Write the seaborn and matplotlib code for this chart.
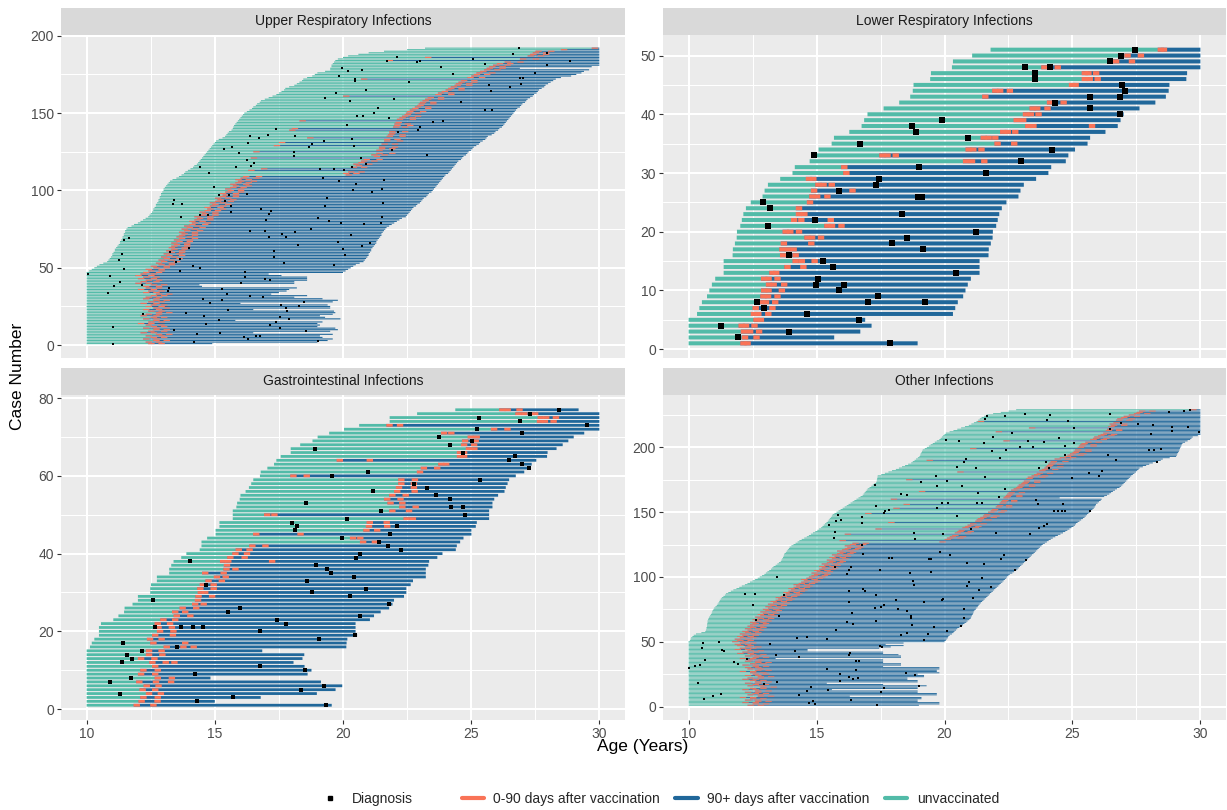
import numpy as np
import pandas as pd
import matplotlib
matplotlib.use("Agg")  # headless
import matplotlib.pyplot as plt
from matplotlib.lines import Line2D
import seaborn as sns

W, H = 1227, 810
TEAL, BLUE, SALMON = "#52BBA8", "#20679A", "#F97357"
DOSE_SPAN = 0.25  # 0-90 days after a dose, in years

# ---------------- Upper Respiratory Infections (cases 1..192) ----------------
upper_start = [
    10.0, 10.0, 10.0, 10.0, 10.0, 10.0, 10.0, 10.0, 10.0, 10.0, 10.0, 10.0, 10.0, 10.0, 10.0, 10.0,
    10.0, 10.0, 10.0, 10.0, 10.0, 10.0, 10.0, 10.0, 10.0, 10.0, 10.0, 10.0, 10.0, 10.0, 10.0, 10.0,
    10.0, 10.0, 10.0, 10.0, 10.0, 10.0, 10.0, 10.0, 10.0, 10.0, 10.0, 10.0, 10.0, 10.0, 10.0,
    10.1, 10.2, 10.3, 10.4, 10.5, 10.65, 10.8, 10.85, 10.9, 10.95, 11.0, 11.0, 11.05, 11.1, 11.1,
    11.15, 11.2, 11.25, 11.3, 11.3, 11.35, 11.4, 11.4, 11.45, 11.45, 11.5, 11.5, 11.55, 11.6, 11.75,
    11.85, 12.0, 12.1, 12.2, 12.3, 12.4, 12.45, 12.5, 12.55, 12.6, 12.6, 12.65, 12.7, 12.7, 12.75,
    12.8, 12.8, 12.85, 12.85, 12.9, 12.9, 12.95, 13.0, 13.0, 13.05, 13.1, 13.15, 13.2, 13.25, 13.35,
    13.5, 13.6, 13.7, 13.8, 13.85, 13.95, 14.05, 14.15, 14.2, 14.3, 14.35, 14.4, 14.45, 14.5, 14.55,
    14.6, 14.65, 14.7, 14.75, 14.8, 14.85, 14.9, 14.95, 15.0, 15.05, 15.15, 15.3, 15.4, 15.45, 15.5,
    15.55, 15.65, 15.7, 15.72, 15.75, 15.8, 15.85, 15.9, 15.95, 16.0, 16.05, 16.1, 16.15, 16.25, 16.35,
    16.45, 16.5, 16.6, 16.65, 16.75, 16.8, 16.95, 17.1, 17.25, 17.4, 17.5, 17.6, 17.7, 17.75, 17.9,
    18.1, 18.2, 18.3, 18.4, 18.45, 18.6, 18.8, 18.9, 19.0, 19.3, 19.5, 19.5, 19.55, 19.55, 19.6,
    19.65, 19.7, 19.8, 20.0, 20.2, 20.6, 21.0, 21.6, 22.5, 23.2,
]
upper_end = [
    14.9, 19.0, 19.4, 19.6, 19.2, 19.1, 19.6, 16.5, 19.5, 19.8, 19.7, 19.0, 19.1, 19.0, 19.2, 15.8,
    19.9, 19.3, 19.1, 19.6, 19.7, 19.65, 16.5, 19.5, 19.5, 19.4, 16.0, 19.6, 19.8, 19.2, 18.1, 18.6,
    17.2, 17.5, 17.8, 17.9, 18.2, 14.5, 14.4, 18.1, 18.1, 18.6, 18.6, 18.6, 17.6, 17.1, 20.0,
    20.1, 20.2, 20.3, 20.4, 20.5, 20.65, 20.8, 20.85, 20.9, 20.95, 21.0, 21.0, 21.05, 21.1, 21.1,
    21.15, 21.2, 21.25, 21.3, 21.3, 21.35, 21.4, 21.45, 21.5, 21.5, 21.55, 21.6, 21.65, 21.7, 21.8,
    21.9, 22.0, 22.1, 22.2, 22.3, 22.45, 22.5, 22.55, 22.6, 22.65, 22.7, 22.75, 22.85, 22.9, 23.0,
    23.05, 23.1, 23.15, 23.25, 23.3, 23.35, 23.45, 23.5, 23.55, 23.6, 23.65, 23.7, 23.75, 23.8, 23.85,
    23.9, 23.95, 24.0, 24.1, 24.15, 24.2, 24.25, 24.3, 24.35, 24.4, 24.45, 24.5, 24.6, 24.65, 24.7,
    24.8, 24.85, 24.9, 25.0, 25.05, 25.1, 25.2, 25.3, 25.35, 25.45, 25.55, 25.6, 25.65, 25.8, 25.9,
    25.95, 26.05, 26.1, 26.2, 26.25, 26.3, 26.35, 26.4, 26.45, 26.5, 26.55, 26.6, 26.65, 26.7, 26.75,
    26.8, 26.9, 26.95, 27.0, 27.1, 27.15, 27.2, 27.3, 27.4, 27.45, 27.55, 27.6, 27.65, 27.75, 27.85,
    27.9, 28.0, 28.1, 28.2, 28.3, 28.5, 28.9, 29.1, 29.3, 29.4, 29.6, 26.9, 29.7, 30.0, 30.0,
    30.0, 30.0, 30.0, 30.0, 30.0, 30.0, 30.0, 30.0, 30.0, 30.0,
]
upper_dose1 = [
    12.4, 12.3, 12.6, 12.2, 12.5, 12.3, 12.7, 12.1, 12.4, 12.6, 12.2, 12.5, 12.3, 12.0, 12.4, 12.6,
    12.2, 12.5, 12.1, 12.3, 12.7, 12.4, 12.2, 12.6, 12.3, 12.5, 12.1, 12.4, 12.6, 12.2, 12.3, 12.5,
    12.7, 12.2, 12.4, 12.0, 12.3, 12.2, 12.5, 11.9, 12.1, 12.3, 12.0, 12.2, 11.9, 12.1, 12.2,
    12.4, 12.3, 12.6, 12.5, 12.8, 12.7, 12.9, 12.8, 13.0, 12.9, 13.1, 13.0, 13.2, 13.1, 13.3,
    13.2, 13.3, 13.4, 13.3, 13.5, 13.4, 13.6, 13.5, 13.6, 13.7, 13.6, 13.8, 13.7, 13.9, 13.8,
    14.0, 14.1, 14.0, 14.2, 14.3, 14.2, 14.4, 14.5, 14.4, 14.6, 14.7, 14.6, 14.8, 14.9, 14.8,
    15.0, 15.1, 15.0, 15.2, 15.3, 15.2, 15.4, 15.5, 15.4, 15.6, 15.7, 15.6, 15.8, 15.9, 15.8,
    16.0, 16.1,
    20.1, 20.0, 20.2, 16.3, 16.8, 20.3, 20.5, 20.4, 20.6, 20.7,
    20.8, 16.4, 21.2, 21.1, 21.3, 16.5, 21.3, 21.4, 21.4, 17.3,
    21.5, 17.5, 21.6, 21.6, 18.6, 21.7, 21.75, 21.8, 21.8, 17.9,
    18.0, 21.95, 22.0, 22.0, 22.05, 18.3, 22.1, 22.2, 22.3, 22.4,
    22.45, 22.5, 22.6, 22.7, 22.8, 22.9, 22.95, 23.0, 23.1, 23.2,
    23.3, 20.0, 23.6, 23.7, 23.85, 24.0, 24.1, 24.2, 24.35, 24.4,
    24.5, 24.6, 20.7, 24.85, 25.0, 25.1, 25.2, 25.35, 25.5, 25.6,
    25.7, 25.85, 26.0, 26.3, 21.7, 26.9, 23.2, 27.2, 27.3, 27.4,
    27.5, 28.5, 29.7,
]
upper_dose2 = [
    (1, 12.8), (2, 12.7), (3, 13.0), (4, 12.6), (5, 12.9), (6, 12.8), (7, 13.1), (8, 12.5),
    (9, 12.9), (10, 13.0), (11, 12.6), (12, 12.9), (13, 12.8), (14, 12.4), (15, 12.8), (16, 13.0),
    (17, 12.6), (18, 12.9), (19, 12.6), (20, 12.7), (21, 13.1), (22, 12.8), (23, 12.7), (24, 13.0),
    (25, 12.8), (26, 12.9), (27, 12.6), (28, 12.8), (29, 13.0), (30, 12.6), (31, 12.7), (32, 12.9),
    (33, 13.1), (34, 12.6), (35, 12.8), (36, 12.5), (37, 12.7), (38, 12.7), (39, 12.9), (40, 12.3),
    (41, 12.6), (42, 12.7), (43, 12.5), (44, 12.6), (45, 12.4), (46, 12.5), (47, 12.7), (48, 12.8),
    (49, 12.8), (50, 13.0), (51, 13.0), (52, 13.2), (53, 13.2), (54, 13.4), (55, 13.2), (56, 13.5),
    (57, 13.3), (58, 13.6), (59, 13.5), (60, 13.6), (61, 13.6), (62, 13.7), (63, 13.7), (64, 13.8),
    (65, 13.8), (66, 13.8), (67, 13.9), (68, 13.9), (69, 14.1), (70, 13.9), (71, 14.1), (72, 14.1),
    (73, 14.1), (74, 14.3), (75, 14.1), (76, 14.4), (77, 14.2), (78, 14.5), (79, 14.6), (80, 14.4),
    (81, 14.7), (82, 14.7), (83, 14.7), (84, 14.9), (85, 14.9), (86, 14.9), (87, 15.0), (88, 15.2),
    (89, 15.1), (90, 15.2), (91, 15.4), (92, 15.2), (93, 15.5), (94, 15.6), (95, 15.4), (96, 15.7),
    (97, 15.7), (98, 15.7), (99, 15.9), (100, 15.9), (101, 15.9), (102, 16.0), (103, 16.2),
    (104, 16.1), (105, 16.2), (106, 16.4), (107, 16.2), (108, 16.5), (109, 16.6),
    (111, 20.4), (112, 20.6), (115, 20.7), (117, 20.9), (119, 21.1), (120, 21.3), (123, 21.5),
    (124, 21.8), (127, 21.8), (128, 21.9), (130, 21.9), (132, 22.1), (133, 22.0), (135, 22.2),
    (136, 22.2), (138, 22.3), (141, 22.3), (142, 22.5), (143, 22.4), (146, 22.6), (147, 22.6),
    (148, 22.8), (150, 22.8), (151, 23.0), (153, 23.2), (154, 23.2), (156, 23.4), (157, 23.4),
    (159, 23.7), (160, 23.7), (162, 24.1), (163, 24.1), (165, 24.5), (166, 24.5), (168, 24.8),
    (169, 24.8), (170, 25.0), (171, 25.0), (173, 25.3), (175, 25.5), (176, 25.7), (178, 25.9),
    (179, 26.1), (180, 26.1), (181, 26.3), (182, 26.4), (183, 26.8), (185, 27.4), (187, 27.6),
    (188, 27.8), (189, 27.8), (190, 28.0),
]
upper_diag = [
    (46, 10.05), (49, 11.44), (45, 10.9), (41, 11.3), (38, 11.07), (34, 10.85), (39, 12.15), (37, 13.23),
    (35, 13.18), (20, 12.19), (12, 11.02), (1, 11.04), (21, 13.88), (19, 14.59), (14, 14.64), (10, 13.41),
    (7, 14.29), (2, 14.2), (8, 15.21), (16, 15.17), (23, 15.51), (27, 14.8), (30, 14.55), (29, 15.27),
    (33, 15.48), (36, 15.29), (40, 16.02), (44, 16.18), (47, 16.19), (32, 16.36), (31, 16.88), (43, 16.97),
    (42, 17.17), (26, 17.59), (24, 17.77), (22, 17.8), (25, 18.28), (28, 18.49), (17, 17.91), (18, 17.54),
    (15, 17.4), (13, 17.17), (11, 17.56), (9, 18.57), (3, 19.02), (5, 16.13), (4, 16.3), (6, 16.61),
    (6, 16.77), (53, 17.68), (52, 19.66), (51, 14.15), (50, 14.41), (48, 13.66),
    (55, 11.28), (59, 11.38), (68, 11.46), (69, 11.64), (60, 13.24), (54, 13.49), (56, 13.65), (63, 13.98),
    (61, 17.32), (57, 17.32), (65, 18.23), (67, 19.8), (62, 20.0), (58, 20.07), (64, 20.76), (66, 21.04),
    (192, 26.87), (188, 26.64), (189, 27.96), (181, 27.97), (184, 28.87), (176, 27.49), (173, 26.9),
    (173, 27.03), (169, 26.93), (167, 26.51), (164, 25.78), (168, 25.71), (185, 25.07), (182, 25.53),
    (175, 24.28), (157, 24.61), (180, 23.82), (184, 23.01), (183, 22.87), (186, 22.12), (184, 21.71),
    (178, 20.75), (177, 20.21), (179, 19.96), (174, 19.85), (172, 20.45), (171, 20.46), (163, 19.72),
    (160, 19.29), (158, 20.28), (165, 20.89), (159, 21.97), (170, 22.56), (152, 25.53), (152, 25.83),
    (144, 23.5), (145, 23.89), (139, 22.91), (141, 22.99), (138, 22.14), (147, 21.8), (153, 21.36),
    (150, 21.19), (148, 20.77), (148, 20.56), (142, 20.17), (133, 20.34), (129, 20.43), (121, 20.69),
    (117, 20.89), (115, 20.37), (113, 20.02), (114, 19.64), (114, 19.09), (108, 19.22), (106, 19.85),
    (104, 20.49), (107, 21.58), (101, 21.54), (99, 21.15), (100, 20.38), (95, 19.39), (92, 21.57),
    (90, 19.31), (126, 21.91), (123, 23.28), (125, 18.09), (122, 18.1), (128, 18.66), (130, 18.79),
    (132, 19.25), (135, 18.11), (140, 17.4), (136, 17.07), (134, 16.74), (135, 16.39), (131, 16.3),
    (124, 15.95), (127, 15.34), (128, 15.66), (115, 15.83), (120, 16.26), (116, 16.4), (118, 16.53),
    (115, 14.41), (111, 14.76), (102, 14.96), (97, 15.17), (93, 15.4), (97, 15.54), (86, 15.63),
    (90, 15.65), (98, 16.27), (83, 13.69), (84, 14.44), (84, 14.72), (94, 13.42), (91, 13.37),
    (91, 13.73), (88, 16.82), (87, 17.19), (85, 17.12), (81, 16.98), (74, 16.39), (74, 16.94),
    (70, 17.12), (72, 17.64), (70, 17.77), (73, 18.11), (75, 18.74), (82, 19.01), (80, 19.44),
    (79, 19.91), (71, 20.33), (78, 20.82), (79, 21.48), (83, 21.54),
]

# ---------------- Lower Respiratory Infections (cases 1..51) ----------------
lower_start = [
    10.0, 10.0, 10.0, 10.0, 10.0, 10.33, 10.42, 10.52, 10.72, 10.81, 10.91, 11.04, 11.37, 11.37,
    11.37, 11.72, 11.73, 11.81, 11.88, 11.89, 12.02, 12.08, 12.14, 12.24, 12.43, 12.89, 12.97, 13.1,
    13.58, 14.06, 14.15, 14.73, 14.82, 15.08, 15.59, 15.68, 16.28, 16.76, 16.86, 16.99, 17.62, 18.23,
    18.66, 18.76, 18.79, 19.44, 19.47, 20.29, 20.33, 21.08, 21.8,
]
lower_end = [
    18.95, 15.69, 16.71, 17.15, 16.9, 20.33, 20.42, 20.52, 20.73, 20.82, 20.91, 21.03, 21.37, 21.37,
    21.37, 21.72, 21.73, 21.81, 21.88, 21.89, 22.02, 22.08, 22.14, 22.24, 22.42, 22.89, 22.97, 23.1,
    23.58, 24.06, 24.17, 24.74, 24.84, 25.1, 25.59, 25.69, 26.29, 26.77, 26.88, 27.0, 27.62, 28.24,
    28.65, 28.76, 28.79, 29.45, 29.48, 30.0, 30.0, 30.0, 30.0,
]
lower_doses = [
    [12.02, 12.18], [12.08, 12.53], [12.04, 12.28, 12.63], [11.95, 12.12, 12.45], [12.53, 12.7],
    [12.43, 12.6, 12.99], [12.5, 13.15], [12.76, 12.9, 13.26], [12.8, 12.98, 13.35], [12.83, 13.0, 13.52],
    [13.02, 13.2, 13.61], [12.83, 13.0, 13.35], [13.15, 13.3], [13.74, 14.36], [14.06, 14.3, 14.8],
    [13.57, 14.06], [13.54, 13.75, 13.98], [13.6, 14.67], [14.52, 14.7, 15.05], [13.67, 13.85, 14.19],
    [15.3, 15.48, 15.85], [14.0, 14.28, 15.43], [14.19, 14.4], [14.19], [14.62],
    [14.71, 14.9, 15.3], [14.78, 16.28], [14.95, 15.15, 15.47], [14.58, 14.75], [16.04],
    [15.96], [20.72, 20.95, 21.43], [17.45, 17.65, 17.97], [20.82, 21.0, 21.32], [21.95, 22.6],
    [21.41, 21.6, 21.86], [22.17, 22.35, 22.64], [23.15, 23.35, 25.64], [22.7, 22.95], [23.06, 23.25, 23.55],
    [23.32, 23.5, 23.9], [24.0, 24.53], [21.47], [21.86, 22.05, 22.43], [24.86, 25.0],
    [25.36, 25.55, 25.86], [25.36, 25.5, 25.8], [23.78, 24.3], [26.58, 27.2], [27.03, 27.55],
    [28.33, 28.45],
]
lower_diag = [
    (1, 17.86), (2, 11.94), (3, 13.91), (4, 11.26), (5, 16.65), (6, 14.62), (7, 12.96), (8, 12.66),
    (8, 17.02), (8, 19.22), (9, 17.4), (10, 15.86), (11, 14.96), (11, 16.09), (12, 15.05), (13, 20.43),
    (14, 15.64), (15, 15.25), (16, 13.91), (17, 19.15), (18, 17.96), (19, 18.55), (20, 21.24), (21, 13.11),
    (22, 14.93), (23, 18.35), (24, 13.19), (25, 12.92), (26, 18.96), (26, 19.14), (27, 15.86), (28, 17.32),
    (29, 17.46), (30, 21.63), (31, 19.0), (32, 23.0), (33, 14.9), (34, 24.19), (35, 16.68), (36, 20.91),
    (37, 18.88), (38, 18.74), (39, 19.9), (40, 26.86), (41, 25.68), (42, 24.32), (43, 25.7), (43, 26.84),
    (44, 27.06), (45, 26.94), (46, 23.55), (47, 23.52), (48, 23.15), (48, 24.14), (49, 26.46), (50, 26.88),
    (51, 27.46),
]

# ---------------- Gastrointestinal Infections (cases 1..77) ----------------
gi_start = [
    10.0, 10.0, 10.0, 10.0, 10.0, 10.0, 10.0, 10.0, 10.0, 10.0, 10.0, 10.0, 10.0, 10.0, 10.0,
    10.13, 10.2, 10.3, 10.48, 10.48, 10.48, 10.56, 11.04, 11.24, 11.46,
    11.48, 11.79, 12.0, 12.0, 12.48, 12.48, 12.51, 12.74, 12.74, 13.22,
    13.22, 13.3, 13.39, 13.69, 13.89, 14.41, 14.48, 14.48, 14.7, 15.03,
    15.03, 15.18, 15.18, 15.7, 15.7, 15.7, 15.84, 15.87, 15.97, 16.0,
    16.2, 16.33, 16.42, 16.5, 16.76, 16.79, 17.05, 17.31, 17.4, 17.57,
    17.96, 17.96, 18.33, 18.81, 19.01, 19.46, 20.04, 20.63, 21.82, 21.82,
    22.89, 24.38,
]
gi_end = [
    19.56, 15.0, 16.79, 18.98, 19.71, 19.97, 19.14, 14.83, 18.62, 18.77,
    18.5, 18.07, 18.42, 18.49, 16.85, 20.13, 20.14, 20.17, 20.55, 20.49,
    20.49, 20.49, 21.05, 21.21, 21.47, 21.8, 21.93, 21.99, 22.38, 22.47,
    22.47, 22.64, 22.73, 23.23, 23.23, 23.23, 23.33, 23.36, 23.68, 23.88,
    24.4, 24.44, 24.57, 24.7, 25.01, 25.01, 25.18, 25.22, 25.7, 25.7,
    25.7, 25.83, 25.83, 25.9, 26.05, 26.3, 26.35, 26.42, 26.48, 26.74,
    27.07, 27.3, 27.36, 27.54, 27.96, 27.98, 28.33, 28.57, 28.79, 29.0,
    29.41, 30.0, 30.0, 30.0, 30.0, 30.0, 29.19,
]
gi_doses = [
    [11.83, 12.48], [12.02, 12.64], [12.09, 12.65], [12.31, 12.77], [12.06, 12.55],
    [12.22, 12.68], [11.93, 12.58, 13.17], [12.65, 13.2], [12.0, 12.55], [12.09, 12.65],
    [12.55], [12.44, 12.96, 13.3], [12.0, 12.52], [12.31, 12.83], [12.31, 12.8],
    [13.0, 13.65, 14.05], [12.48, 13.72], [12.35, 12.8], [12.55, 13.24], [12.74, 13.26],
    [12.68, 13.2], [12.65, 13.13], [12.87, 13.33], [13.39, 13.92], [13.33, 13.72],
    [13.62, 14.15], [14.11, 14.44], [14.22], [14.24, 14.77], [14.33, 14.5],
    [14.31, 14.83], [14.41, 14.83], [14.63, 15.15], [14.96, 15.3], [14.5, 15.22],
    [15.33, 15.68], [15.35], [15.2, 15.4, 17.11], [15.48, 16.04], [15.68, 16.13],
    [15.81, 16.23], [16.34, 16.85], [20.66, 21.12], [20.27, 20.55], [16.49, 18.22],
    [20.79, 21.21], [20.89, 21.6], [20.92, 21.58], [22.36, 22.6], [16.92, 17.2],
    [21.8, 22.45], [22.19, 22.71], [21.73, 22.19], [21.6, 22.12], [21.8, 22.32],
    [21.99, 22.67], [22.06, 22.64], [22.15, 22.64], [22.15, 22.68], [17.94, 18.46],
    [22.88], [23.03, 23.55], [23.71, 23.9], [19.75, 20.92], [24.44, 24.6],
    [24.44, 24.6], [24.79, 25.0], [24.6, 24.99], [24.64, 25.05], [24.86, 25.09],
    [23.82, 24.1], [25.77, 26.29], [21.69, 22.1], [27.56, 27.75, 28.09], [27.59, 27.8, 28.18],
    [26.72, 26.95, 27.37], [26.09, 26.3, 26.76],
]
gi_diag = [
    (1, 19.33), (2, 14.31), (3, 15.72), (4, 11.31), (5, 18.36), (6, 19.24), (7, 10.9), (8, 11.74),
    (9, 14.24), (10, 18.5), (11, 16.76), (12, 11.38), (13, 11.78), (14, 11.57), (15, 12.15), (16, 13.52),
    (17, 11.42), (18, 19.06), (19, 20.48), (20, 16.75), (21, 12.66), (21, 13.67), (21, 14.15), (21, 14.54),
    (22, 17.77), (23, 17.42), (24, 20.65), (25, 15.5), (26, 16.0), (27, 21.8), (28, 12.57), (29, 20.27),
    (30, 18.81), (31, 20.91), (32, 14.66), (33, 18.6), (34, 20.43), (35, 19.53), (36, 19.36), (37, 18.94),
    (38, 14.05), (39, 20.49), (40, 20.66), (41, 22.28), (42, 21.77), (43, 21.42), (44, 19.95), (45, 21.82),
    (46, 18.12), (47, 18.2), (47, 22.1), (48, 18.03), (49, 20.14), (50, 24.74), (51, 21.48), (52, 24.22),
    (52, 24.67), (53, 18.55), (54, 24.19), (55, 23.62), (56, 21.18), (57, 23.26), (58, 22.76), (59, 25.34),
    (60, 19.58), (61, 20.99), (62, 27.24), (63, 27.0), (64, 26.48), (65, 26.72), (66, 24.67), (67, 18.89),
    (68, 24.19), (69, 25.03), (70, 23.74), (71, 26.99), (72, 25.21), (73, 29.53), (74, 26.91), (75, 25.29),
    (76, 27.29), (77, 28.42),
]

# ---------------- Other Infections (cases 1..229) ----------------
other_start = [
    10.0, 10.0, 10.0, 10.0, 10.0, 10.0, 10.0, 10.0, 10.0, 10.0, 10.0, 10.0, 10.0, 10.0, 10.0, 10.0, 10.0,
    10.0, 10.0, 10.0, 10.0, 10.0, 10.0, 10.0, 10.0, 10.0, 10.0, 10.0, 10.0, 10.0, 10.0, 10.0, 10.0, 10.0,
    10.0, 10.0, 10.0, 10.0, 10.0, 10.0, 10.0, 10.0, 10.0, 10.0, 10.0, 10.0, 10.0, 10.0, 10.0, 10.0,
    10.05, 10.08, 10.1, 10.15, 10.2, 10.29, 10.5, 10.65, 10.68, 10.7,
    10.7, 10.72, 10.72, 10.73, 10.74, 10.74, 10.76, 10.78, 10.8, 10.84,
    10.87, 10.9, 10.92, 10.94, 10.97, 11.0, 11.05, 11.1, 11.13, 11.17,
    11.2, 11.22, 11.26, 11.3, 11.36, 11.42, 11.46, 11.55, 11.65, 11.75,
    11.87, 11.98, 12.08, 12.2, 12.3, 12.4, 12.5, 12.6, 12.7, 12.78,
    12.87, 12.96, 13.02, 13.08, 13.15, 13.22, 13.27, 13.32, 13.4, 13.47,
    13.53, 13.6, 13.63, 13.66, 13.69, 13.71, 13.73, 13.75, 13.8, 13.84,
    13.88, 13.92, 13.95, 14.02, 14.1, 14.18, 14.26, 14.33, 14.42, 14.52,
    14.62, 14.7, 14.78, 14.86, 14.95, 15.03, 15.1, 15.18, 15.23, 15.28,
    15.33, 15.39, 15.44, 15.48, 15.52, 15.56, 15.6, 15.63, 15.7, 15.78,
    15.86, 15.94, 16.02, 16.1, 16.18, 16.25, 16.33, 16.41, 16.48, 16.56,
    16.64, 16.72, 16.8, 16.84, 16.88, 16.92, 16.96, 17.0, 17.07, 17.14,
    17.2, 17.27, 17.33, 17.35, 17.36, 17.37, 17.38, 17.39, 17.53, 17.67,
    17.81, 17.95, 18.1, 18.22, 18.34, 18.46, 18.58, 18.7, 18.76, 18.83,
    18.89, 18.96, 19.02, 19.05, 19.07, 19.1, 19.12, 19.15, 19.23, 19.31,
    19.39, 19.46, 19.54, 19.62, 19.7, 19.8, 19.85, 19.9, 19.95, 20.0,
    20.05, 20.2, 20.35, 20.5, 20.65, 20.8, 20.95, 21.05, 21.15, 21.25,
    21.32, 21.38, 21.45, 21.55, 21.65, 21.9, 22.2, 22.5, 22.8,
]
other_end = [
    19.0, 19.8, 19.8, 18.95, 18.95, 19.1, 19.1, 16.3, 19.7, 19.7,
    18.95, 18.95, 15.6, 18.95, 18.95, 19.3, 17.6, 15.4, 18.95, 18.95,
    18.55, 18.55, 19.2, 19.2, 18.95, 19.8, 19.7, 19.7, 19.8, 19.8,
    17.6, 18.3, 18.3, 17.6, 17.6, 17.6, 13.4, 18.3, 18.3, 18.2,
    17.6, 17.6, 14.65, 14.65, 17.45, 17.9, 18.4, 17.7, 18.4, 20.0,
    20.05, 20.08, 20.13, 20.15, 20.2, 20.29, 20.35, 20.39, 20.45, 20.5,
    20.58, 20.65, 20.72, 20.78, 20.85, 20.9, 20.97, 21.02, 21.04, 21.07,
    21.1, 21.12, 21.14, 21.17, 21.22, 21.25, 21.3, 21.33, 21.37, 21.42,
    21.47, 21.52, 21.57, 21.63, 21.68, 21.73, 21.78, 21.83, 21.89, 21.94,
    21.99, 22.04, 22.1, 22.15, 22.2, 22.26, 22.31, 22.36, 22.41, 22.45,
    22.5, 22.55, 22.65, 22.72, 22.8, 22.85, 22.9, 22.95, 23.0, 23.06,
    23.11, 23.16, 23.21, 23.27, 23.32, 23.37, 23.42, 23.48, 23.53, 23.58,
    23.63, 23.68, 23.73, 23.79, 23.84, 23.92, 24.0, 24.07, 24.15, 24.23,
    24.33, 24.43, 24.53, 24.63, 24.72, 24.8, 24.88, 24.96, 25.04, 25.1,
    25.14, 25.2, 25.27, 25.34, 25.41, 25.47, 25.52, 25.57, 25.62, 25.68,
    25.73, 25.78, 25.83, 25.87, 25.9, 25.92, 25.98, 26.04, 26.1, 26.14,
    24.5, 26.24, 26.35, 26.44, 26.51, 26.58, 26.66, 26.74, 26.84, 26.9,
    26.95, 27.0, 27.05, 27.1, 27.15, 27.2, 27.25, 27.3, 27.36, 27.42,
    27.48, 27.53, 27.58, 27.62, 27.75, 27.88, 28.0, 28.14, 28.3, 28.45,
    28.53, 28.8, 29.05, 29.08, 29.1, 29.13, 29.16, 29.18, 29.2, 29.22,
    29.25, 29.27, 29.3, 29.4, 29.5, 29.6, 29.65, 29.7, 29.9, 30.0,
    30.0, 30.0, 30.0, 30.0, 30.0, 30.0, 30.0, 30.0, 30.0, 30.0,
    30.0, 30.0, 30.0, 30.0, 30.0, 30.0, 30.0, 30.0, 30.0,
]
other_dose1 = [
    12.3, 12.5, 12.1, 12.6, 12.2, 12.4, 12.0, 12.7, 12.3, 12.5,
    12.2, 12.6, 12.1, 12.4, 12.8, 12.3, 12.5, 12.2, 12.6, 12.4,
    12.1, 12.3, 12.7, 12.2, 12.5, 12.4, 12.0, 12.6, 12.3, 12.2,
    12.5, 12.1, 12.4, 12.6, 12.2, 12.3, 12.0, 12.5, 12.2, 12.4,
    11.9, 12.1, 12.3, 11.8, 12.0, 12.2, 11.9, 11.8, 12.0, 11.7,
    11.9, 11.8, 12.0, 11.9, 12.1, 12.0, 12.2, 12.1, 12.3, 12.2,
    12.4, 12.3, 12.4, 12.5, 12.4, 12.6, 12.5, 12.7, 12.6, 12.8,
    12.7, 12.9, 12.8, 13.0, 12.9, 13.1, 13.0, 13.2, 13.1, 13.3,
    13.2, 13.4, 13.5, 13.4, 13.6, 13.7, 13.8, 13.7, 13.9, 14.0,
    13.9, 14.1, 14.2, 14.1, 14.3, 14.4, 14.5, 14.4, 14.6, 14.7,
    14.8, 14.9, 14.8, 15.0, 14.9, 15.1, 15.2, 15.1, 15.3, 15.2,
    15.4, 15.5, 15.4, 15.6, 15.5, 15.7, 15.6, 15.8, 15.9, 15.8,
    16.0, 16.1, 16.2, 16.1, 16.3, 16.4,
    19.8, 15.9, 20.0, 20.1,
    20.2, 20.3, 16.1, 20.4, 20.5, 20.55, 17.3, 20.7, 20.8, 20.9,
    21.0, 17.8, 21.2, 21.25, 21.3, 21.4, 21.5, 21.55, 16.9, 21.7,
    21.8, 21.85, 18.0, 22.0, 22.05, 18.4, 22.15, 22.2, 22.25, 17.9,
    22.3, 22.35, 22.4, 22.45, 22.5, 19.0, 22.6, 22.7, 22.8, 22.85,
    22.9, 23.0, 23.05, 23.1, 18.5, 23.2, 23.25, 23.4, 23.5, 23.6,
    20.5, 23.7, 23.8, 23.9, 23.95, 24.0, 24.05, 24.1, 24.15, 19.3,
    24.3, 24.5, 24.7, 24.8, 24.9, 25.0, 25.05, 25.1, 21.0, 25.2,
    25.25, 25.3, 25.35, 25.5, 22.3, 25.7, 25.8, 25.85, 26.0, 26.1,
    26.2, 22.0, 26.3, 26.35, 23.3, 26.4, 26.5, 26.45, 26.6, 21.3,
    26.7, 26.75, 26.9, 27.0, 27.2, 27.4, 27.5, 27.6, 29.6,
]
other_dose2 = [
    (1, 12.7), (2, 12.9), (3, 12.5), (4, 13.0), (5, 12.6), (6, 12.8), (7, 12.4), (8, 13.1),
    (9, 12.7), (10, 12.9), (11, 12.6), (12, 13.0), (13, 12.5), (14, 12.8), (15, 13.2), (16, 12.7),
    (17, 12.9), (18, 12.6), (19, 13.0), (20, 12.8), (21, 12.5), (22, 12.7), (23, 13.1), (24, 12.6),
    (25, 12.9), (26, 12.8), (27, 12.4), (28, 13.0), (29, 12.7), (30, 12.6), (31, 12.9), (32, 12.5),
    (33, 12.8), (34, 13.0), (35, 12.6), (36, 12.7), (37, 12.4), (38, 12.9), (39, 12.6), (40, 12.8),
    (41, 12.3), (42, 12.5), (43, 12.7), (44, 12.2), (45, 12.4), (46, 12.6), (47, 12.3), (48, 12.2),
    (49, 12.4), (50, 12.1), (51, 12.3), (52, 12.2), (53, 12.4), (54, 12.3), (55, 12.5), (56, 12.4),
    (57, 12.6), (58, 12.5), (59, 12.7), (60, 12.6), (61, 12.8), (62, 12.7), (63, 12.8), (64, 12.9),
    (65, 12.8), (66, 13.0), (67, 12.9), (68, 13.1), (69, 13.0), (70, 13.2), (71, 13.1), (72, 13.3),
    (73, 13.2), (74, 13.4), (75, 13.3), (76, 13.5), (77, 13.4), (78, 13.6), (79, 13.5), (80, 13.7),
    (81, 13.6), (82, 13.8), (83, 13.9), (84, 13.8), (85, 14.0), (86, 14.1), (87, 14.2), (88, 14.1),
    (89, 14.3), (90, 14.4), (91, 14.3), (92, 14.5), (93, 14.6), (94, 14.5), (95, 14.7), (96, 14.8),
    (97, 14.9), (98, 14.8), (99, 15.0), (100, 15.1), (101, 15.2), (102, 15.3), (103, 15.2),
    (104, 15.4), (105, 15.3), (106, 15.5), (107, 15.6), (108, 15.5), (109, 15.7), (110, 15.6),
    (111, 15.8), (112, 15.9), (113, 15.8), (114, 16.0), (115, 15.9), (116, 16.1), (117, 16.0),
    (118, 16.2), (119, 16.3), (120, 16.2), (121, 16.4), (122, 16.5), (123, 16.6), (124, 16.5),
    (125, 16.7), (126, 16.8),
    (130, 20.5), (131, 20.6), (134, 20.8), (135, 20.9), (138, 21.1), (139, 21.2), (141, 21.4),
    (144, 21.6), (146, 21.8), (147, 21.9), (150, 22.1), (151, 22.2), (154, 22.4), (155, 22.4),
    (158, 22.6), (159, 22.6), (162, 22.8), (163, 22.8), (165, 22.9), (168, 23.1), (170, 23.3),
    (171, 23.3), (173, 23.5), (174, 23.5), (177, 23.7), (178, 23.8), (180, 24.0), (183, 24.2),
    (185, 24.4), (187, 24.4), (189, 24.6), (191, 24.7), (192, 24.9), (194, 25.2), (195, 25.3),
    (197, 25.5), (198, 25.5), (201, 25.7), (202, 25.7), (204, 25.9), (206, 26.1), (207, 26.2),
    (209, 26.4), (210, 26.5), (213, 26.7), (214, 26.7), (217, 26.9), (218, 26.9), (221, 27.1),
    (222, 27.2), (224, 27.4), (226, 27.8), (228, 28.0),
]
other_diag = [
    (65, 16.19), (64, 16.41), (63, 18.73), (61, 19.6), (58, 20.1), (59, 15.76), (54, 14.62), (53, 14.23),
    (52, 15.4), (55, 18.3), (57, 18.53), (51, 19.21), (56, 19.36), (50, 11.19), (49, 10.55), (45, 10.51),
    (44, 11.29), (43, 11.37), (36, 10.65), (30, 10.0), (31, 10.26), (32, 10.45), (34, 11.78), (33, 11.95),
    (37, 12.29), (48, 13.2), (40, 13.42), (43, 14.17), (38, 14.33), (19, 13.44), (17, 12.96), (18, 10.38),
    (10, 11.25), (8, 10.97), (6, 10.6), (9, 14.3), (12, 14.61), (3, 14.69), (4, 14.85), (2, 14.95),
    (15, 14.78), (13, 15.45), (20, 15.93), (23, 16.26), (21, 16.43), (22, 16.62), (28, 16.55), (29, 15.39),
    (41, 16.32), (40, 16.28), (35, 16.55), (35, 16.67), (25, 15.9), (11, 17.5), (14, 17.63), (16, 19.01),
    (26, 18.49), (24, 18.83), (1, 17.38), (5, 16.34), (47, 17.49), (46, 17.55),
    (87, 12.19), (78, 12.5), (87, 12.6), (67, 12.63), (100, 13.44), (70, 13.52), (86, 13.74), (140, 15.5),
    (130, 15.67), (135, 15.74), (143, 15.76), (148, 15.85), (108, 15.71), (144, 15.96), (102, 16.19),
    (105, 16.28), (108, 16.35), (89, 16.25), (81, 16.27), (72, 16.39), (146, 16.78), (142, 16.77),
    (125, 16.77), (118, 16.83), (91, 16.82), (89, 16.91), (86, 17.31), (76, 17.3), (77, 17.5), (78, 17.63),
    (105, 17.47), (66, 17.33), (171, 17.3), (155, 17.33), (149, 17.64), (151, 17.68), (152, 17.84),
    (115, 17.82), (115, 17.95), (82, 18.11), (75, 18.19), (74, 18.55), (103, 18.66), (97, 18.76),
    (94, 18.8), (70, 18.7), (68, 18.71), (164, 18.31), (163, 18.54), (134, 18.8), (129, 18.83),
    (173, 19.1), (81, 19.18), (114, 19.4), (114, 19.48), (104, 19.48), (178, 19.65), (153, 19.7),
    (170, 19.72), (119, 19.82), (82, 19.9), (83, 19.93), (133, 19.93), (206, 20.07),
    (229, 29.6), (228, 29.35), (227, 28.79), (226, 26.45), (226, 23.16), (224, 21.68), (222, 21.6),
    (224, 22.36), (225, 24.14), (221, 24.0), (220, 24.82), (215, 25.05), (219, 26.88), (218, 27.56),
    (217, 28.14), (216, 28.88), (213, 28.88), (216, 29.52), (212, 29.93), (214, 26.48), (205, 20.56),
    (208, 21.91), (211, 22.64), (205, 23.27), (204, 23.88), (207, 24.47), (201, 24.69), (203, 25.05),
    (203, 21.56), (197, 21.86), (200, 22.95), (200, 23.45), (198, 22.42), (192, 22.15), (189, 20.77),
    (191, 20.85), (185, 20.48), (184, 21.24), (198, 27.98), (198, 28.18), (199, 28.45), (210, 28.07),
    (190, 26.71), (194, 26.39), (189, 28.29), (180, 25.66), (178, 26.03), (182, 26.16), (194, 24.71),
    (176, 24.97), (184, 23.71), (184, 24.1), (189, 23.95), (174, 20.1), (170, 20.68), (177, 21.6),
    (168, 22.37), (165, 21.32), (162, 22.12), (159, 23.58), (156, 23.66), (157, 21.47), (157, 21.28),
    (157, 19.91), (157, 20.13), (147, 20.49), (151, 24.26), (151, 24.43), (151, 24.58), (151, 24.69),
    (156, 24.62), (151, 25.7), (133, 23.36), (138, 23.71), (139, 23.88), (141, 24.0), (137, 21.02),
    (134, 22.02), (117, 20.2), (111, 20.87), (110, 21.54), (114, 22.19), (117, 22.34), (113, 23.2),
    (105, 22.75), (96, 20.95), (93, 20.89), (90, 21.34), (99, 21.47), (92, 21.8), (84, 21.1),
    (75, 20.78), (68, 20.76), (62, 20.63),
]

x_ticks = [10, 15, 20, 25, 30]
x_minor = [12.5, 17.5, 22.5, 27.5]


def with_extra(first, extra):
    doses = [[d] for d in first]
    for case, d in extra:
        doses[case - 1].append(d)
    return doses


def segments(start, end, doses):
    teal, blue, sal = [], [], []
    for case, (s, e, ds) in enumerate(zip(start, end, doses), start=1):
        ds = sorted(ds)
        teal.append((case, s, ds[0]))
        blue.append((case, ds[0], e))
        for d in ds:
            sal.append((case, d, min(d + DOSE_SPAN, e)))
    cols = ["case", "x0", "x1"]
    return [pd.DataFrame(t, columns=cols) for t in (teal, blue, sal)]


def px_rect(x0, y0, x1, y1):
    return [x0 / W, 1 - y1 / H, (x1 - x0) / W, (y1 - y0) / H]


sns.set_theme(style="darkgrid", rc={"axes.facecolor": "#EBEBEB", "grid.color": "white"})
plt.rcParams["font.family"] = ["Liberation Sans", "DejaVu Sans"]

panels = [
    dict(title="Upper Respiratory Infections", start=upper_start, end=upper_end,
         doses=with_extra(upper_dose1, upper_dose2), diag=upper_diag, lw=0.78, ms=3.2,
         ylim=(-8.3, 200.5), yt=[0, 50, 100, 150, 200], ym=[25, 75, 125, 175],
         box=(61, 35, 625, 358), xlab=False),
    dict(title="Lower Respiratory Infections", start=lower_start, end=lower_end,
         doses=lower_doses, diag=lower_diag, lw=2.9, ms=13.0,
         ylim=(-1.5, 53.5), yt=[0, 10, 20, 30, 40, 50], ym=[5, 15, 25, 35, 45],
         box=(663, 35, 1226, 358), xlab=False),
    dict(title="Gastrointestinal Infections", start=gi_start, end=gi_end,
         doses=gi_doses, diag=gi_diag, lw=2.0, ms=7.5,
         ylim=(-2.8, 80.8), yt=[0, 20, 40, 60, 80], ym=[10, 30, 50, 70],
         box=(61, 395, 625, 720), xlab=True),
    dict(title="Other Infections", start=other_start, end=other_end,
         doses=with_extra(other_dose1, other_dose2), diag=other_diag, lw=0.65, ms=2.8,
         ylim=(-10.4, 240.4), yt=[0, 50, 100, 150, 200], ym=[25, 75, 125, 175, 225],
         box=(663, 395, 1226, 720), xlab=True),
]

fig = plt.figure(figsize=(W / 100, H / 100), dpi=100, facecolor="white")

for p in panels:
    x0, y0, x1, y1 = p["box"]
    ax = fig.add_axes(px_rect(x0, y0, x1, y1))
    teal, blue, sal = segments(p["start"], p["end"], p["doses"])
    for df, col in ((teal, TEAL), (blue, BLUE), (sal, SALMON)):
        ax.hlines(df["case"], df["x0"], df["x1"], colors=col, linewidth=p["lw"],
                  capstyle="butt", snap=False, zorder=2)
    dd = pd.DataFrame(p["diag"], columns=["case", "age"])
    sns.scatterplot(data=dd, x="age", y="case", ax=ax, marker="s", s=p["ms"],
                    color="black", linewidth=0, legend=False, zorder=3)
    ax.set_xlim(9, 31)
    ax.set_ylim(*p["ylim"])
    ax.set_xticks(x_ticks)
    ax.set_xticks(x_minor, minor=True)
    ax.set_yticks(p["yt"])
    ax.set_yticks(p["ym"], minor=True)
    ax.set_xlabel("")
    ax.set_ylabel("")
    ax.set_facecolor("#EBEBEB")
    ax.set_axisbelow(True)
    ax.grid(which="major", color="white", linewidth=1.5)
    ax.grid(which="minor", color="white", linewidth=0.75)
    for sp in ax.spines.values():
        sp.set_visible(False)
    ax.tick_params(which="minor", length=0)
    ax.tick_params(axis="y", which="major", left=True, length=3, width=0.8, color="#333333",
                   labelsize=10, labelcolor="#4D4D4D", pad=2)
    ax.tick_params(axis="x", which="major", bottom=p["xlab"], labelbottom=p["xlab"], length=3,
                   width=0.8, color="#333333", labelsize=10, labelcolor="#4D4D4D", pad=2)
    # facet strip
    sax = fig.add_axes(px_rect(x0, y0 - 27, x1, y0))
    sax.set_facecolor("#D9D9D9")
    sax.set_xticks([])
    sax.set_yticks([])
    sax.grid(False)
    for sp in sax.spines.values():
        sp.set_visible(False)
    sax.text(0.5, 0.5, p["title"], ha="center", va="center", fontsize=10, color="#1A1A1A",
             transform=sax.transAxes)

fig.text(18 / W, 1 - 376 / H, "Case Number", rotation=90, ha="center", va="center",
         fontsize=12.5, color="black")
fig.text(643 / W, 1 - 746 / H, "Age (Years)", ha="center", va="center", fontsize=12.5,
         color="black")

diag_handle = Line2D([], [], marker="s", linestyle="none", color="black", markersize=3.2)
fig.legend([diag_handle], ["Diagnosis"], loc="center left", bbox_to_anchor=(306 / W, 11 / H),
           frameon=False, fontsize=10, handlelength=1.6, handletextpad=0.8)
col_handles = [Line2D([], [], color=c, linewidth=3) for c in (SALMON, BLUE, TEAL)]
fig.legend(col_handles, ["0-90 days after vaccination", "90+ days after vaccination", "unvaccinated"],
           loc="center left", bbox_to_anchor=(449 / W, 11 / H), ncol=3, frameon=False,
           fontsize=10, handlelength=1.6, handletextpad=0.7, columnspacing=1.1)

fig.savefig("out.png", dpi=100, facecolor="white")
plt.close(fig)
print("wrote out.png")
